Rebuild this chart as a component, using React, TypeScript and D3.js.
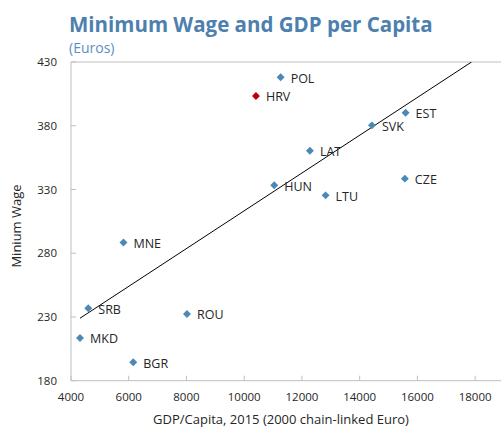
import { useEffect, useRef } from "react"
import * as d3 from "d3"

const countries = ["POL", "HRV", "EST", "SVK", "LAT", "HUN", "LTU", "CZE", "MNE", "SRB", "ROU", "MKD", "BGR"]
const gdpPerCapita = [11262, 10407, 15591, 14424, 12277, 11040, 12820, 15566, 5818, 4599, 8017, 4312, 6157]
const minimumWage = [418, 403.3, 390.2, 380.3, 360.4, 333.3, 325.4, 338.5, 288.4, 236.8, 232.3, 213.5, 194.5]
const highlighted = ["HRV"]

const trendGdp = [4312, 17876]
const trendWage = [229, 430]

const xTicks = [4000, 6000, 8000, 10000, 12000, 14000, 16000, 18000]
const yTicks = [180, 230, 280, 330, 380, 430]

export default function App() {
  const svgRef = useRef(null)

  useEffect(() => {
    document.body.style.margin = "0"
    if (!svgRef.current) return

    const svg = d3.select(svgRef.current)
    svg.selectAll("*").remove()

    const width = 501
    const height = 428
    const font = "'Open Sans', sans-serif"
    const left = 71
    const right = 504
    const top = 62
    const bottom = 380.7

    const x = d3.scaleLinear().domain([4000, 19000]).range([left, right])
    const y = d3.scaleLinear().domain([180, 430]).range([bottom, top])

    // title
    svg
      .append("text")
      .attr("x", 69)
      .attr("y", 31.5)
      .attr("font-family", font)
      .attr("font-size", "20.5px")
      .attr("font-weight", "bold")
      .attr("fill", "#4d80ae")
      .text("Minimum Wage and GDP per Capita")

    svg
      .append("text")
      .attr("x", 69)
      .attr("y", 52.5)
      .attr("font-family", font)
      .attr("font-size", "14px")
      .attr("fill", "#5a8fc4")
      .text("(Euros)")

    // plot frame
    svg
      .append("path")
      .attr("d", `M${right},${top}H${left}V${bottom}H${right}`)
      .attr("fill", "none")
      .attr("stroke", "#bfbfbf")
      .attr("stroke-width", 1)

    // ticks
    svg
      .selectAll(".ytick")
      .data(yTicks)
      .enter()
      .append("line")
      .attr("x1", left)
      .attr("x2", left + 5)
      .attr("y1", (d) => y(d))
      .attr("y2", (d) => y(d))
      .attr("stroke", "#bfbfbf")

    svg
      .selectAll(".xtick")
      .data(xTicks)
      .enter()
      .append("line")
      .attr("x1", (d) => x(d))
      .attr("x2", (d) => x(d))
      .attr("y1", bottom)
      .attr("y2", bottom - 5)
      .attr("stroke", "#bfbfbf")

    svg
      .selectAll(".ylabel")
      .data(yTicks)
      .enter()
      .append("text")
      .attr("x", 57)
      .attr("y", (d) => y(d))
      .attr("dy", "0.35em")
      .attr("text-anchor", "end")
      .attr("font-family", font)
      .attr("font-size", "11.5px")
      .attr("fill", "#262626")
      .text((d) => d)

    svg
      .selectAll(".xlabel")
      .data(xTicks)
      .enter()
      .append("text")
      .attr("x", (d) => x(d))
      .attr("y", 401)
      .attr("text-anchor", "middle")
      .attr("font-family", font)
      .attr("font-size", "11.5px")
      .attr("fill", "#262626")
      .text((d) => d)

    // axis titles
    svg
      .append("text")
      .attr("x", 281)
      .attr("y", 424)
      .attr("text-anchor", "middle")
      .attr("font-family", font)
      .attr("font-size", "13px")
      .attr("fill", "#262626")
      .text("GDP/Capita, 2015 (2000 chain-linked Euro)")

    svg
      .append("text")
      .attr("transform", `translate(21,226) rotate(-90)`)
      .attr("text-anchor", "middle")
      .attr("font-family", font)
      .attr("font-size", "13px")
      .attr("fill", "#262626")
      .text("Minium Wage")

    // trend line, clipped to the plot
    svg
      .append("clipPath")
      .attr("id", "plot-clip")
      .append("rect")
      .attr("x", left)
      .attr("y", top)
      .attr("width", right - left)
      .attr("height", bottom - top)

    svg
      .append("line")
      .attr("clip-path", "url(#plot-clip)")
      .attr("x1", x(trendGdp[0]))
      .attr("y1", y(trendWage[0]))
      .attr("x2", x(trendGdp[1]))
      .attr("y2", y(trendWage[1]))
      .attr("stroke", "#000")
      .attr("stroke-width", 1)

    // points
    const diamond = d3.symbol().type(d3.symbolDiamond2).size(40)

    svg
      .selectAll(".pt")
      .data(countries)
      .enter()
      .append("path")
      .attr("d", diamond)
      .attr("transform", (d, i) => `translate(${x(gdpPerCapita[i])},${y(minimumWage[i])})`)
      .attr("fill", (d) => (highlighted.includes(d) ? "#c00000" : "#4a89b5"))

    svg
      .selectAll(".ptlabel")
      .data(countries)
      .enter()
      .append("text")
      .attr("x", (d, i) => x(gdpPerCapita[i]) + 10)
      .attr("y", (d, i) => y(minimumWage[i]) + 1)
      .attr("dy", "0.35em")
      .attr("font-family", font)
      .attr("font-size", "12.5px")
      .attr("fill", "#262626")
      .text((d) => d)

    svg.attr("width", width).attr("height", height).attr("viewBox", [0, 0, width, height])
  }, [])

  return (
    <div style={{ width: 501, height: 428 }}>
      <svg ref={svgRef} style={{ display: "block" }}></svg>
    </div>
  )
}
